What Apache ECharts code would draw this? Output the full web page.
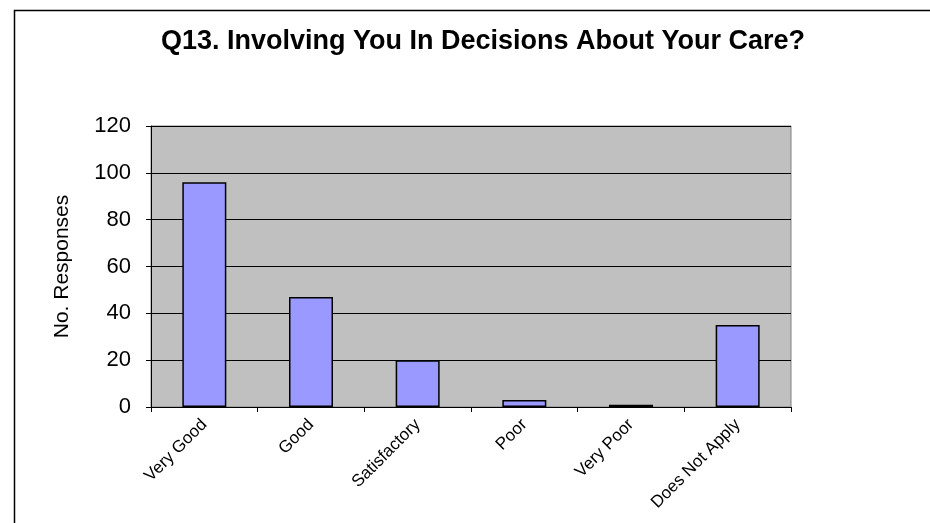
<!DOCTYPE html>
<html><head><meta charset="utf-8">
<script src="https://cdn.jsdelivr.net/npm/echarts@6/dist/echarts.min.js"></script>
<style>html,body{margin:0;padding:0;background:#fff}#c{width:930px;height:523px}</style>
</head><body><div id="c"></div>
<script>
const categories = ["Very Good", "Good", "Satisfactory", "Poor", "Very Poor", "Does Not Apply"];
const responses = [96, 47, 20, 3, 1, 35];
const yTicks = [0, 20, 40, 60, 80, 100, 120];
const titleText = "Q13. Involving You In Decisions About Your Care?";
const yAxisName = "No. Responses";

const chart = echarts.init(document.getElementById('c'), null, {renderer: 'canvas'});
chart.setOption({
  animation: false,
  backgroundColor: '#ffffff',
  title: {
    text: titleText, left: 478, top: 23, textAlign: 'center',
    textStyle: {fontFamily: 'Liberation Sans, Arial', fontWeight: 'bold', fontSize: 27, color: '#000'}
  },
  graphic: [{
    type: 'rect', x: 0, y: 0, z: 100, silent: true,
    shape: {x: 14.5, y: 10.5, width: 930, height: 530},
    style: {fill: 'none', stroke: '#000', lineWidth: 1.5}
  }],
  grid: {left: 151, top: 126, width: 640, height: 281, show: true, backgroundColor: '#c0c0c0', borderColor: '#808080', borderWidth: 1},
  xAxis: {
    type: 'category', data: categories,
    axisLine: {lineStyle: {color: '#000', width: 1}},
    axisTick: {show: true, alignWithLabel: false, length: 5, lineStyle: {color: '#000'}},
    axisLabel: {rotate: 45, fontFamily: 'Liberation Sans, Arial', fontSize: 17, color: '#000', margin: 15, interval: 0}
  },
  yAxis: {
    type: 'value', min: 0, max: yTicks[yTicks.length - 1], interval: 20,
    name: yAxisName, nameLocation: 'middle', nameGap: 78, nameRotate: 90,
    nameTextStyle: {fontFamily: 'Liberation Sans, Arial', fontSize: 21, color: '#000'},
    axisLine: {show: true, lineStyle: {color: '#000', width: 1}},
    axisTick: {show: true, inside: false, length: 5, lineStyle: {color: '#000'}},
    axisLabel: {fontFamily: 'Liberation Sans, Arial', fontSize: 22, color: '#000', margin: 20},
    splitLine: {show: true, lineStyle: {color: '#000', width: 1}}
  },
  series: [{
    type: 'bar', data: responses, barWidth: 44,
    itemStyle: {color: '#9999ff', borderColor: '#000', borderWidth: 1.5}
  }]
});
</script></body></html>
